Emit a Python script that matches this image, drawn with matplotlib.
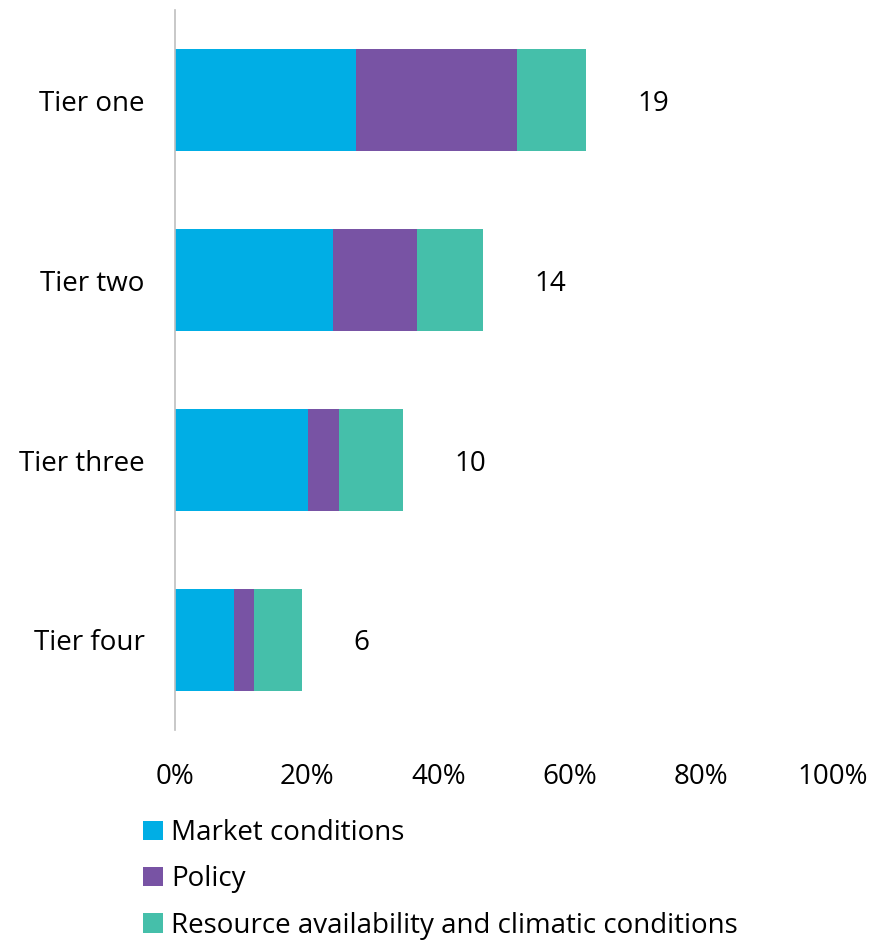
import matplotlib
matplotlib.use("Agg")
import matplotlib.pyplot as plt
from matplotlib.ticker import PercentFormatter

plt.rcParams["font.family"] = ["Open Sans", "DejaVu Sans"]

tiers = ["Tier one", "Tier two", "Tier three", "Tier four"]
market = [27.5, 24.0, 20.2, 9.0]
policy = [24.5, 12.8, 4.7, 3.0]
resource = [10.5, 10.0, 9.7, 7.3]
counts = [19, 14, 10, 6]

series = [
    ("Market conditions", market, "#00AEE5"),
    ("Policy", policy, "#7853A4"),
    ("Resource availability and climatic conditions", resource, "#45BFAA"),
]

fig = plt.figure(figsize=(8.72, 9.44), dpi=100)
ax = fig.add_axes([175 / 872, 214 / 944, 658 / 872, 720 / 944])

ypos = list(range(len(tiers)))
left = [0.0] * len(tiers)
for name, vals, color in series:
    ax.barh(ypos, vals, left=left, height=0.57, color=color, label=name)
    left = [l + v for l, v in zip(left, vals)]

# counts sit to the right of each stacked bar
for y, total, n in zip(ypos, left, counts):
    ax.annotate(str(n), (total, y), xytext=(37, 0), textcoords="offset points",
                ha="left", va="center_baseline", fontsize=20)

ax.set_xlim(0, 100)
ax.set_ylim(3.5, -0.5)
ax.set_yticks(ypos)
ax.set_yticklabels(tiers, fontsize=20)
ax.set_xticks(range(0, 101, 20))
ax.xaxis.set_major_formatter(PercentFormatter(decimals=0))
ax.tick_params(axis="x", length=0, pad=24, labelsize=20)
ax.tick_params(axis="y", length=0, pad=22)

for side in ["top", "right", "bottom"]:
    ax.spines[side].set_visible(False)
ax.spines["left"].set_color("#BFBFBF")
ax.spines["left"].set_linewidth(1.2)

fig.legend(loc="upper left", bbox_to_anchor=(132 / 872, 1 - 808 / 944),
           frameon=False, fontsize=20, handlelength=0.7, handleheight=0.7,
           handletextpad=0.3, labelspacing=0.66, borderaxespad=0)

fig.savefig("out.png", dpi=100)
